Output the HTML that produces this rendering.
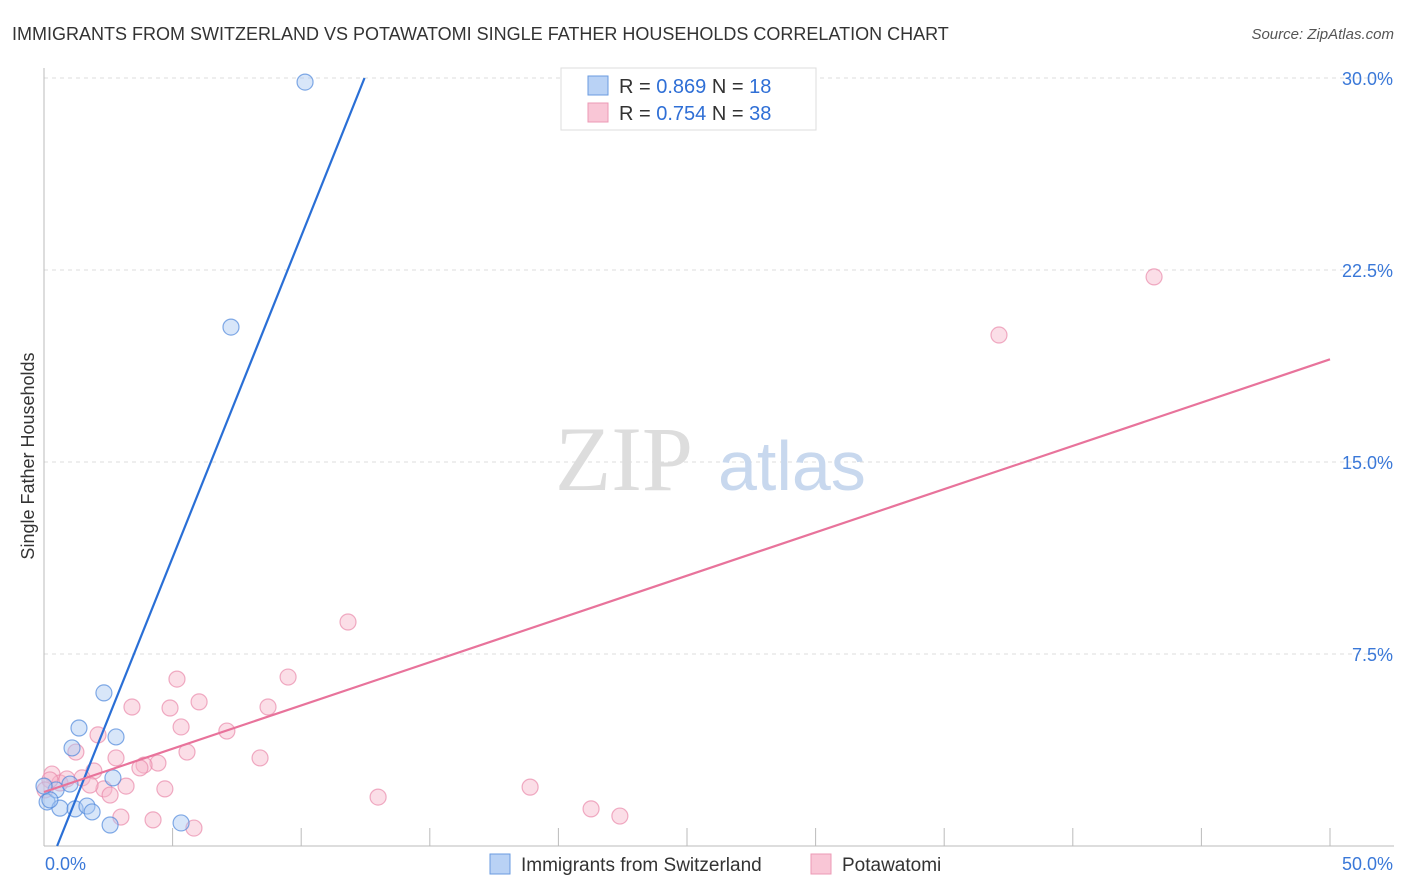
<!DOCTYPE html>
<html><head><meta charset="utf-8"><style>
body{margin:0;background:#fff;font-family:"Liberation Sans",sans-serif}
svg{display:block}
</style></head><body>
<svg width="1406" height="892" xmlns="http://www.w3.org/2000/svg">
<text x="12" y="40" font-size="18" fill="#333">IMMIGRANTS FROM SWITZERLAND VS POTAWATOMI SINGLE FATHER HOUSEHOLDS CORRELATION CHART</text>
<text x="1394" y="39" font-size="15" fill="#555" font-style="italic" text-anchor="end">Source: ZipAtlas.com</text>
<text x="0" y="0" transform="translate(34,456) rotate(-90)" font-size="18" fill="#333" text-anchor="middle">Single Father Households</text>
<g id="grid"></g>
<g><text x="555" y="490" font-size="92" font-family="Liberation Serif,serif" fill="#ddd">ZIP</text><text x="718" y="490" font-size="70" fill="#c8d8ee">atlas</text></g>
<g id="marks"></g>
<g>
<rect x="561" y="68" width="255" height="62" fill="#fff" stroke="#ddd"/>
<rect x="588" y="76" width="20" height="19" fill="#b9d2f5" stroke="#6a9be0"/>
<rect x="588" y="103" width="20" height="19" fill="#f9c6d6" stroke="#ec9ab5"/>
<text x="619" y="93" font-size="20" fill="#333">R = <tspan fill="#2f6fd6">0.869</tspan>   N = <tspan fill="#2f6fd6">18</tspan></text>
<text x="619" y="120" font-size="20" fill="#333">R = <tspan fill="#2f6fd6">0.754</tspan>   N = <tspan fill="#2f6fd6">38</tspan></text>
</g>
<g>
<rect x="490" y="854" width="20" height="20" fill="#b9d2f5" stroke="#6a9be0"/>
<text x="521" y="871" font-size="19" fill="#333">Immigrants from Switzerland</text>
<rect x="811" y="854" width="20" height="20" fill="#f9c6d6" stroke="#ec9ab5"/>
<text x="842" y="871" font-size="19" fill="#333">Potawatomi</text>
</g>
</svg>
<script>
const xTicks=[0,50];
const yTicks=[7.5,15,22.5,30];
const blueX=[10.15,7.27,2.33,1.36,2.80,1.09,2.68,0.12,0.47,0.62,1.21,1.67,1.87,2.57,5.33,1.01,0.23,0.0];
const blueY=[29.84,20.27,5.98,4.61,4.26,3.83,2.66,1.72,2.19,1.48,1.45,1.56,1.33,0.82,0.90,2.42,1.80,2.34];
const pinkX=[43.16,37.13,11.82,9.49,5.17,6.03,8.71,3.42,4.90,5.33,7.11,2.10,1.24,5.56,8.40,2.80,4.43,3.89,3.73,1.94,1.48,3.19,2.33,4.70,2.57,18.9,12.99,21.27,22.39,2.99,4.24,5.83,0.31,0.62,0.89,0.23,1.79,0.04];
const pinkY=[22.23,19.96,8.75,6.60,6.52,5.63,5.43,5.43,5.39,4.65,4.49,4.34,3.67,3.67,3.44,3.44,3.24,3.16,3.05,2.93,2.66,2.34,2.23,2.23,1.99,2.30,1.91,1.45,1.17,1.13,1.02,0.70,2.81,2.46,2.62,2.58,2.38,2.19];
const blueFit=[-1.28,2.51];
const pinkFit=[2.11,0.338];
const NS="http://www.w3.org/2000/svg";
const X=v=>44+v*25.72, Y=v=>846-v*25.6;
function mk(p,t,a){const e=document.createElementNS(NS,t);for(const k in a)e.setAttribute(k,a[k]);p.appendChild(e);return e;}
const g=document.getElementById('grid'), m=document.getElementById('marks');
yTicks.forEach(t=>{
 const l=mk(g,'line',{x1:44,x2:1394,y1:Y(t),y2:Y(t),stroke:'#ddd','stroke-dasharray':'4,4'});
 
 
 const tx=mk(g,'text',{x:1393,y:Y(t)+7,'font-size':18,fill:'#3a78d8','text-anchor':'end'});
 tx.textContent=t.toFixed(1)+'%';
 
 
});
mk(g,'line',{x1:44,x2:44,y1:68,y2:846,stroke:'#bbb'});
mk(g,'line',{x1:44,x2:1394,y1:846,y2:846,stroke:'#bbb'});
for(let i=1;i<=10;i++){const x=X(i*5);const l=mk(g,'line',{x1:x,x2:x,y1:828,y2:846,stroke:'#bbb'});
 
 }
xTicks.forEach((t,i)=>{const tx=mk(g,'text',{x:i?1393:45,y:870,'font-size':18,fill:'#3a78d8','text-anchor':i?'end':'start'});
 tx.textContent=t.toFixed(1)+'%';
 
 });
function pts(xs,ys,fill,stroke,name){xs.forEach((x,i)=>{const c=mk(m,'circle',{cx:X(x),cy:Y(ys[i]),r:8,fill:fill,'fill-opacity':0.45,stroke:stroke,'stroke-opacity':0.7,'stroke-width':1.2});
 
 });}
pts(pinkX,pinkY,'#f7b6ca','#e98aab','potawatomi-point');
pts(blueX,blueY,'#a9c8f2','#4f88dc','switzerland-point');
const bx0=-blueFit[0]/blueFit[1], bx1=(30-blueFit[0])/blueFit[1];
const bl=mk(m,'line',{x1:X(bx0),y1:Y(0),x2:X(bx1),y2:Y(30),stroke:'#2a6fd6','stroke-width':2.2});


const pl=mk(m,'line',{x1:X(0),y1:Y(pinkFit[0]),x2:X(50),y2:Y(pinkFit[0]+50*pinkFit[1]),stroke:'#e8739b','stroke-width':2.2});


</script>
</body></html>
